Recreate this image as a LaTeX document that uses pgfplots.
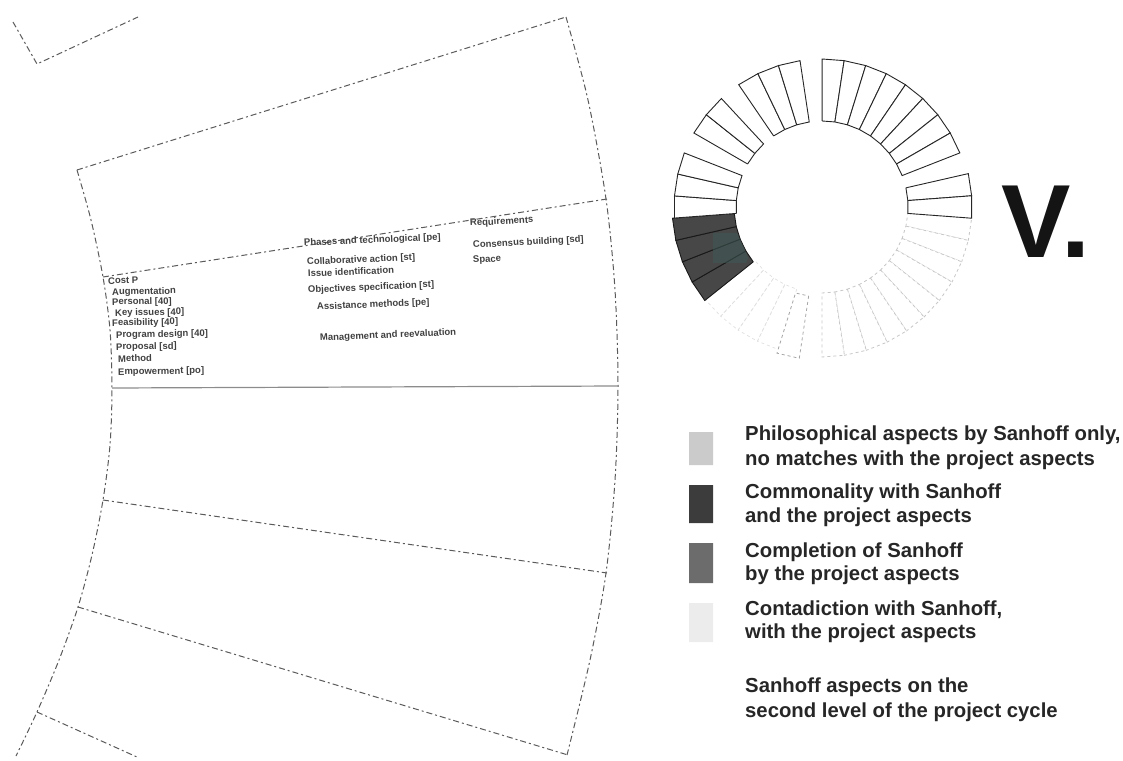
\documentclass[border=0pt]{standalone}
\usepackage{pgfplots}
\pgfplotsset{compat=1.18}
\usepackage{fontspec}
\setmainfont{Liberation Sans}
\definecolor{frameg}{HTML}{5A5A5A}
\definecolor{darkseg}{HTML}{474747}
\definecolor{lg1}{HTML}{CBCBCB}
\definecolor{lg2}{HTML}{3C3C3C}
\definecolor{lg3}{HTML}{6C6C6C}
\definecolor{lg4}{HTML}{ECECEC}
\definecolor{tealp}{HTML}{3F5A56}
\tikzset{
  dsh/.style={draw=frameg, line width=1pt, dash pattern=on 6pt off 3pt on 2pt off 3pt, mark=none},
  bandtxt/.style={anchor=base west, font=\bfseries\fontsize{9.5}{10}\selectfont, text=black!75, inner sep=0pt},
  legtxt/.style={anchor=base west, font=\bfseries\fontsize{20.3}{22}\selectfont, text=black!85, inner sep=0pt},
}
\pgfplotsset{
  seg/.style={data cs=polar, draw=black!85, line width=0.9pt, fill=white, mark=none},
  dseg/.style={data cs=polar, draw=black!90, line width=0.9pt, fill=darkseg, mark=none},
  fseg/.style={data cs=polar, draw=black!22, line width=0.8pt, dashed, fill=white, mark=none},
  ffseg/.style={data cs=polar, draw=black!12, line width=0.7pt, dashed, mark=none},
}
\begin{document}
\begin{tikzpicture}
% ---------------- left diagram, legend and title (pixel coordinates) -------------
\begin{axis}[at={(0,0)}, anchor=south west, width=1123pt, height=760pt, scale only axis,
  xmin=0, xmax=1123, ymin=0, ymax=760, y dir=reverse, hide axis, clip=false]
\addplot[draw=none, mark=none] coordinates {(0,0) (1123,760)};
% top-left fragment
\addplot[dsh] coordinates {(13,22) (37,64) (138,17)};
% left arc
\addplot[dsh, smooth] coordinates {(77,170) (91,220) (103,277) (110,330) (112,388) (110,445) (103,500) (92,555) (78,607) (59,660) (37,712) (16,756)};
% right arc
\addplot[dsh, smooth] coordinates {(566,17) (588,100) (606,199) (615,290) (618,386) (615,480) (606,573) (590,660) (567,755)};
% radial lines
\addplot[dsh] coordinates {(77,170) (566,17)};
\addplot[dsh] coordinates {(103,277) (607,199)};
\addplot[draw=black!45, line width=1.2pt, mark=none] coordinates {(112,388) (618,386)};
\addplot[dsh] coordinates {(103,500) (607,573)};
\addplot[dsh] coordinates {(78,607) (568,755)};
\addplot[dsh] coordinates {(37,712) (137,757)};
% band texts, left column
\node[bandtxt, rotate=1] at (axis cs:108,284) {Cost P};
\node[bandtxt, rotate=1] at (axis cs:112,295) {Augmentation};
\node[bandtxt, rotate=1] at (axis cs:112,305) {Personal [40]};
\node[bandtxt, rotate=1] at (axis cs:115,316) {Key issues [40]};
\node[bandtxt, rotate=1] at (axis cs:112,326) {Feasibility [40]};
\node[bandtxt, rotate=1] at (axis cs:116,338) {Program design [40]};
\node[bandtxt, rotate=1] at (axis cs:116,350) {Proposal [sd]};
\node[bandtxt, rotate=1] at (axis cs:118,362) {Method};
\node[bandtxt, rotate=1] at (axis cs:118,375) {Empowerment [po]};
% middle column
\node[bandtxt, rotate=2.5] at (axis cs:304,246) {Phases and technological [pe]};
\node[bandtxt, rotate=2.5] at (axis cs:307,265) {Collaborative action [st]};
\node[bandtxt, rotate=2.5] at (axis cs:308,277) {Issue identification};
\node[bandtxt, rotate=2.5] at (axis cs:308,293) {Objectives specification [st]};
\node[bandtxt, rotate=2.5] at (axis cs:317,310) {Assistance methods [pe]};
\node[bandtxt, rotate=2.5] at (axis cs:320,341) {Management and reevaluation};
% right column
\node[bandtxt, rotate=3] at (axis cs:470,226) {Requirements};
\node[bandtxt, rotate=3] at (axis cs:473,248) {Consensus building [sd]};
\node[bandtxt, rotate=3] at (axis cs:473,263) {Space};
% legend squares
\addplot[fill=lg1, draw=none, mark=none] coordinates {(689,432) (713,432) (713,465) (689,465) (689,432)};
\addplot[fill=lg2, draw=none, mark=none] coordinates {(689,485) (713,485) (713,523) (689,523) (689,485)};
\addplot[fill=lg3, draw=none, mark=none] coordinates {(689,543) (713,543) (713,583) (689,583) (689,543)};
\addplot[fill=lg4, draw=none, mark=none] coordinates {(689,603) (713,603) (713,642) (689,642) (689,603)};
% legend texts
\node[legtxt] at (axis cs:745,440) {Philosophical aspects by Sanhoff only,};
\node[legtxt] at (axis cs:745,465) {no matches with the project aspects};
\node[legtxt] at (axis cs:745,498) {Commonality with Sanhoff};
\node[legtxt] at (axis cs:745,522) {and the project aspects};
\node[legtxt] at (axis cs:745,557) {Completion of Sanhoff};
\node[legtxt] at (axis cs:745,580) {by the project aspects};
\node[legtxt] at (axis cs:745,615) {Contadiction with Sanhoff,};
\node[legtxt] at (axis cs:745,638) {with the project aspects};
\node[legtxt] at (axis cs:745,692) {Sanhoff aspects on the};
\node[legtxt] at (axis cs:745,717) {second level of the project cycle};
% title
\node[anchor=base west, inner sep=0pt, font=\bfseries\fontsize{104}{110}\selectfont, text=black!92] at (axis cs:1001,257) {V.};
\end{axis}
% ---------------- ring (polar data, centre at pixel 822,207) ----------------
\begin{axis}[at={(0,0)}, anchor=south west, width=1123pt, height=760pt, scale only axis,
  xmin=-822, xmax=301, ymin=-553, ymax=207, hide axis, clip=false]
% very faint lower-left
\addplot[ffseg] coordinates {(-107.14,86) (-107.14,149) (-115.71,149) (-115.71,86) (-107.14,86)};
\addplot[ffseg] coordinates {(-115.71,86) (-115.71,149) (-124.29,149) (-124.29,86) (-115.71,86)};
\addplot[ffseg] coordinates {(-124.29,86) (-124.29,149) (-132.86,149) (-132.86,86) (-124.29,86)};
\addplot[ffseg] coordinates {(-132.86,86) (-132.86,149) (-141.43,149) (-141.43,86) (-132.86,86)};
% faint lower-right
\addplot[fseg] coordinates {(-4.29,86) (-4.29,150) (-12.86,150) (-12.86,86) (-4.29,86)};
\addplot[fseg] coordinates {(-12.86,86) (-12.86,150) (-21.43,150) (-21.43,86) (-12.86,86)};
\addplot[fseg] coordinates {(-21.43,86) (-21.43,150) (-30,150) (-30,86) (-21.43,86)};
\addplot[fseg] coordinates {(-30,86) (-30,150) (-38.57,150) (-38.57,86) (-30,86)};
\addplot[fseg] coordinates {(-38.57,86) (-38.57,150) (-47.14,150) (-47.14,86) (-38.57,86)};
\addplot[fseg] coordinates {(-47.14,86) (-47.14,150) (-55.71,150) (-55.71,86) (-47.14,86)};
\addplot[fseg] coordinates {(-55.71,86) (-55.71,150) (-64.29,150) (-64.29,86) (-55.71,86)};
\addplot[fseg] coordinates {(-64.29,86) (-64.29,150) (-72.86,150) (-72.86,86) (-64.29,86)};
\addplot[fseg] coordinates {(-72.86,86) (-72.86,150) (-81.43,150) (-81.43,86) (-72.86,86)};
\addplot[fseg] coordinates {(-81.43,86) (-81.43,150) (-90,150) (-90,86) (-81.43,86)};
\addplot[fseg, draw=black!35] coordinates {(-98.57,90) (-98.57,153) (-107.14,153) (-107.14,90) (-98.57,90)};
% group A (top right)
\addplot[seg] coordinates {(90,86) (90,148) (81.43,148) (81.43,86) (90,86)};
\addplot[seg] coordinates {(81.43,86) (81.43,148) (72.86,148) (72.86,86) (81.43,86)};
\addplot[seg] coordinates {(72.86,86) (72.86,148) (64.29,148) (64.29,86) (72.86,86)};
\addplot[seg] coordinates {(64.29,86) (64.29,148) (55.71,148) (55.71,86) (64.29,86)};
\addplot[seg] coordinates {(55.71,86) (55.71,148) (47.14,148) (47.14,86) (55.71,86)};
\addplot[seg] coordinates {(47.14,86) (47.14,148) (38.57,148) (38.57,86) (47.14,86)};
\addplot[seg] coordinates {(38.57,86) (38.57,148) (30,148) (30,86) (38.57,86)};
\addplot[seg] coordinates {(30,86) (30,148) (21.43,148) (21.43,86) (30,86)};
% group F (right)
\addplot[seg] coordinates {(12.86,86) (12.86,150) (4.29,150) (4.29,86) (12.86,86)};
\addplot[seg] coordinates {(4.29,86) (4.29,150) (-4.29,150) (-4.29,86) (4.29,86)};
% group E (dark)
\addplot[dseg] coordinates {(218.57,88) (218.57,150) (210,150) (210,88) (218.57,88)};
\addplot[dseg] coordinates {(210,88) (210,150) (201.43,150) (201.43,88) (210,88)};
\addplot[dseg] coordinates {(201.43,88) (201.43,150) (192.86,150) (192.86,88) (201.43,88)};
\addplot[dseg] coordinates {(192.86,88) (192.86,150) (184.29,150) (184.29,88) (192.86,88)};
% teal patch on the dark segments (cartesian, relative to ring centre)
\addplot[fill=tealp, draw=none, opacity=0.55, mark=none] coordinates {(-109,-26) (-85,-26) (-77,-43) (-74,-51) (-76,-56) (-109,-56) (-109,-26)};
% group D (left)
\addplot[seg] coordinates {(184.29,86) (184.29,148) (175.71,148) (175.71,86) (184.29,86)};
\addplot[seg] coordinates {(175.71,86) (175.71,148) (167.14,148) (167.14,86) (175.71,86)};
\addplot[seg] coordinates {(167.14,86) (167.14,148) (158.57,148) (158.57,86) (167.14,86)};
% group C
\addplot[seg] coordinates {(150,86) (150,148) (141.43,148) (141.43,86) (150,86)};
\addplot[seg] coordinates {(141.43,86) (141.43,148) (132.86,148) (132.86,86) (141.43,86)};
% group B
\addplot[seg] coordinates {(124.29,86) (124.29,148) (115.71,148) (115.71,86) (124.29,86)};
\addplot[seg] coordinates {(115.71,86) (115.71,148) (107.14,148) (107.14,86) (115.71,86)};
\addplot[seg] coordinates {(107.14,86) (107.14,148) (98.57,148) (98.57,86) (107.14,86)};
\end{axis}
\end{tikzpicture}
\end{document}
